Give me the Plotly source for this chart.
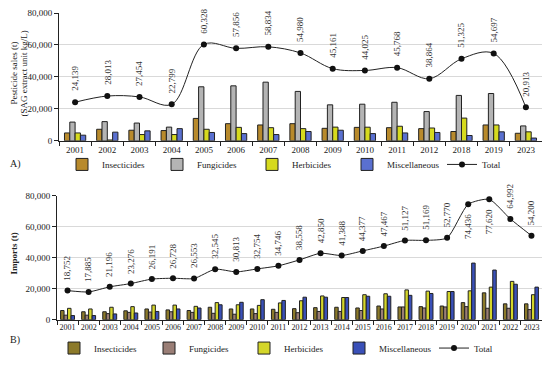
import plotly.graph_objects as go

# ---------------- Panel A data ----------------
years_a = ["2001", "2002", "2003", "2004", "2005", "2006", "2007", "2008",
           "2009", "2010", "2011", "2012", "2018", "2019", "2023"]
insect_a = [4900, 7200, 6600, 6400, 14000, 10700, 9900, 10700, 7800, 8400, 8200, 7600, 5800, 9900, 4700]
fung_a = [11700, 12000, 11100, 8550, 33800, 34400, 36700, 30900, 22500, 22900, 24100, 18300, 28400, 29600, 9300]
herb_a = [4900, 500, 3900, 3900, 7200, 8400, 8200, 7600, 8550, 8500, 9100, 8000, 14200, 9900, 5600]
misc_a = [3500, 5400, 6200, 7600, 5200, 4500, 3900, 5800, 6600, 4500, 4900, 5200, 3300, 5600, 1700]
total_a = [24139, 28013, 27454, 22799, 60328, 57856, 58834, 54980, 45161, 44025, 45768, 38864, 51325, 54697, 20913]

# ---------------- Panel B data ----------------
years_b = [str(y) for y in range(2001, 2024)]
insect_b = [5900, 5100, 5100, 5700, 6900, 6300, 5900, 8000, 6900, 6900, 6700, 7100, 7750, 8000,
            7550, 8800, 8200, 8400, 8800, 11000, 17300, 10200, 10200]
fung_b = [2900, 2900, 3900, 4700, 4900, 5100, 4700, 4100, 3500, 3900, 4700, 4500, 5300, 5300,
          5900, 6900, 8200, 7550, 8200, 8400, 7350, 7350, 6500]
herb_b = [7300, 6900, 8000, 8400, 9400, 9400, 8600, 11000, 9600, 9200, 10800, 12200, 15300, 14300,
          16100, 16700, 19200, 18400, 18150, 18600, 21000, 24700, 16100]
misc_b = [2650, 2650, 3700, 4300, 5300, 6900, 7500, 9600, 11200, 12900, 12400, 14500, 14500, 14300,
          15100, 15100, 15700, 16900, 18150, 36500, 32000, 22850, 21000]
total_b = [18752, 17885, 21196, 23276, 26191, 26728, 26553, 32545, 30813, 32754, 34746, 38558, 42850,
           41388, 44377, 47467, 51127, 51169, 52770, 74436, 77620, 64992, 54200]

series_names = ["Insecticides", "Fungicides", "Herbicides", "Miscellaneous"]
colors_a = ["#b88a2c", "#b4b4b4", "#d6da1e", "#5a70d0"]
colors_b = ["#8c7a2a", "#9a7e76", "#d4d62a", "#3a50b8"]

FONT = "Liberation Serif"
OFF = 8                          # page body margin of the browser
W, H = 550 - 2 * OFF, 371 - 2 * OFF  # figure size so the page fits the window


def px_x(v):
    """screen x (px) -> paper fraction"""
    return min(1.0, max(0.0, (v - OFF) / W))


def px_y(v):
    """screen y (px) -> paper fraction"""
    return min(1.0, max(0.0, 1 - (v - OFF) / H))


fig = go.Figure()

for name, vals, col in zip(series_names, [insect_a, fung_a, herb_a, misc_a], colors_a):
    fig.add_trace(go.Bar(x=years_a, y=vals, name=name, marker=dict(color=col, line=dict(color="#222", width=1)),
                         xaxis="x", yaxis="y", legend="legend"))
fig.add_trace(go.Scatter(x=years_a, y=total_a, name="Total", mode="lines+markers",
                         line=dict(color="#222", width=1, shape="spline", smoothing=1.0),
                         marker=dict(color="#111", size=6), xaxis="x", yaxis="y", legend="legend"))

for name, vals, col in zip(series_names, [insect_b, fung_b, herb_b, misc_b], colors_b):
    fig.add_trace(go.Bar(x=years_b, y=vals, name=name, marker=dict(color=col, line=dict(color="#222", width=1)),
                         xaxis="x2", yaxis="y2", legend="legend2"))
fig.add_trace(go.Scatter(x=years_b, y=total_b, name="Total", mode="lines+markers",
                         line=dict(color="#222", width=1, shape="spline", smoothing=0.6),
                         marker=dict(color="#111", size=6), xaxis="x2", yaxis="y2", legend="legend2"))

annotations = []
for i, v in enumerate(total_a):
    annotations.append(dict(x=i, y=v, xref="x", yref="y", text=f"{v:,}", textangle=-90,
                            showarrow=False, yanchor="bottom", yshift=9,
                            font=dict(family=FONT, size=9, color="#333")))
for i, v in enumerate(total_b):
    below = v > 70000
    annotations.append(dict(x=i, y=v, xref="x2", yref="y2", text=f"{v:,}", textangle=-90,
                            showarrow=False, yanchor="top" if below else "bottom",
                            yshift=-8 if below else 8,
                            font=dict(family=FONT, size=9, color="#333")))

annotations += [
    dict(x=px_x(8), y=px_y(168), xref="paper", yref="paper", text="A)", showarrow=False,
         xanchor="left", font=dict(family=FONT, size=10, color="#222")),
    dict(x=px_x(8), y=px_y(362), xref="paper", yref="paper", text="B)", showarrow=False,
         xanchor="left", font=dict(family=FONT, size=10, color="#222")),
    dict(x=px_x(14), y=px_y(72), xref="paper", yref="paper",
         text="Pesticide sales (t)", textangle=-90, showarrow=False,
         xanchor="center", yanchor="middle",
         font=dict(family=FONT, size=9, color="#222")),
    dict(x=px_x(24), y=px_y(72), xref="paper", yref="paper",
         text="(SAG extract unit kg/L)", textangle=-90, showarrow=False,
         xanchor="center", yanchor="middle",
         font=dict(family=FONT, size=9, color="#222")),
    dict(x=px_x(14), y=px_y(262), xref="paper", yref="paper",
         text="<b>Imports (t)</b>", textangle=-90, showarrow=False,
         xanchor="center", yanchor="middle",
         font=dict(family=FONT, size=9, color="#222")),
]

xdom = [px_x(59), px_x(548)]
xdom_b = [px_x(57), px_x(548)]

common_x = dict(type="category", showline=True, linecolor="#222", linewidth=1, ticks="outside",
                tickson="boundaries", ticklen=4, tickcolor="#222", showgrid=False, autorange=False,
                tickangle=0, fixedrange=True)
common_y = dict(range=[0, 80000], dtick=20000, tickformat=",", showline=True, linecolor="#222",
                linewidth=1, ticks="outside", ticklen=4, tickcolor="#222", showgrid=True,
                gridcolor="#d9d9d9", gridwidth=1, zeroline=False,
                tickfont=dict(family=FONT, size=9, color="#222"))

fig.update_layout(
    width=W, height=H, margin=dict(l=0, r=0, t=0, b=0),
    paper_bgcolor="white", plot_bgcolor="white",
    barmode="group", bargap=0.34, bargroupgap=0.0,
    font=dict(family=FONT, size=9, color="#222"),
    xaxis=dict(domain=xdom, anchor="y", range=[-0.5, len(years_a) - 0.5],
               categoryorder="array", categoryarray=years_a,
               tickfont=dict(family=FONT, size=9, color="#222"), **common_x),
    yaxis=dict(domain=[px_y(143), px_y(8)], anchor="x", **common_y),
    xaxis2=dict(domain=xdom_b, anchor="y2", range=[-0.5, len(years_b) - 0.5],
                categoryorder="array", categoryarray=years_b,
                tickfont=dict(family=FONT, size=8, color="#222"), **common_x),
    yaxis2=dict(domain=[px_y(332), px_y(201)], anchor="x2", **common_y),
    legend=dict(orientation="h", x=px_x(62), y=px_y(168), xanchor="left", yanchor="middle",
                entrywidth=50, entrywidthmode="pixels", traceorder="normal",
                font=dict(family=FONT, size=9, color="#222"), bgcolor="rgba(0,0,0,0)"),
    legend2=dict(orientation="h", x=px_x(54), y=px_y(362), xanchor="left", yanchor="middle",
                 entrywidth=50, entrywidthmode="pixels", traceorder="normal",
                 font=dict(family=FONT, size=9, color="#222"), bgcolor="rgba(0,0,0,0)"),
    annotations=annotations,
    showlegend=True,
)

fig.write_html("out.html")
